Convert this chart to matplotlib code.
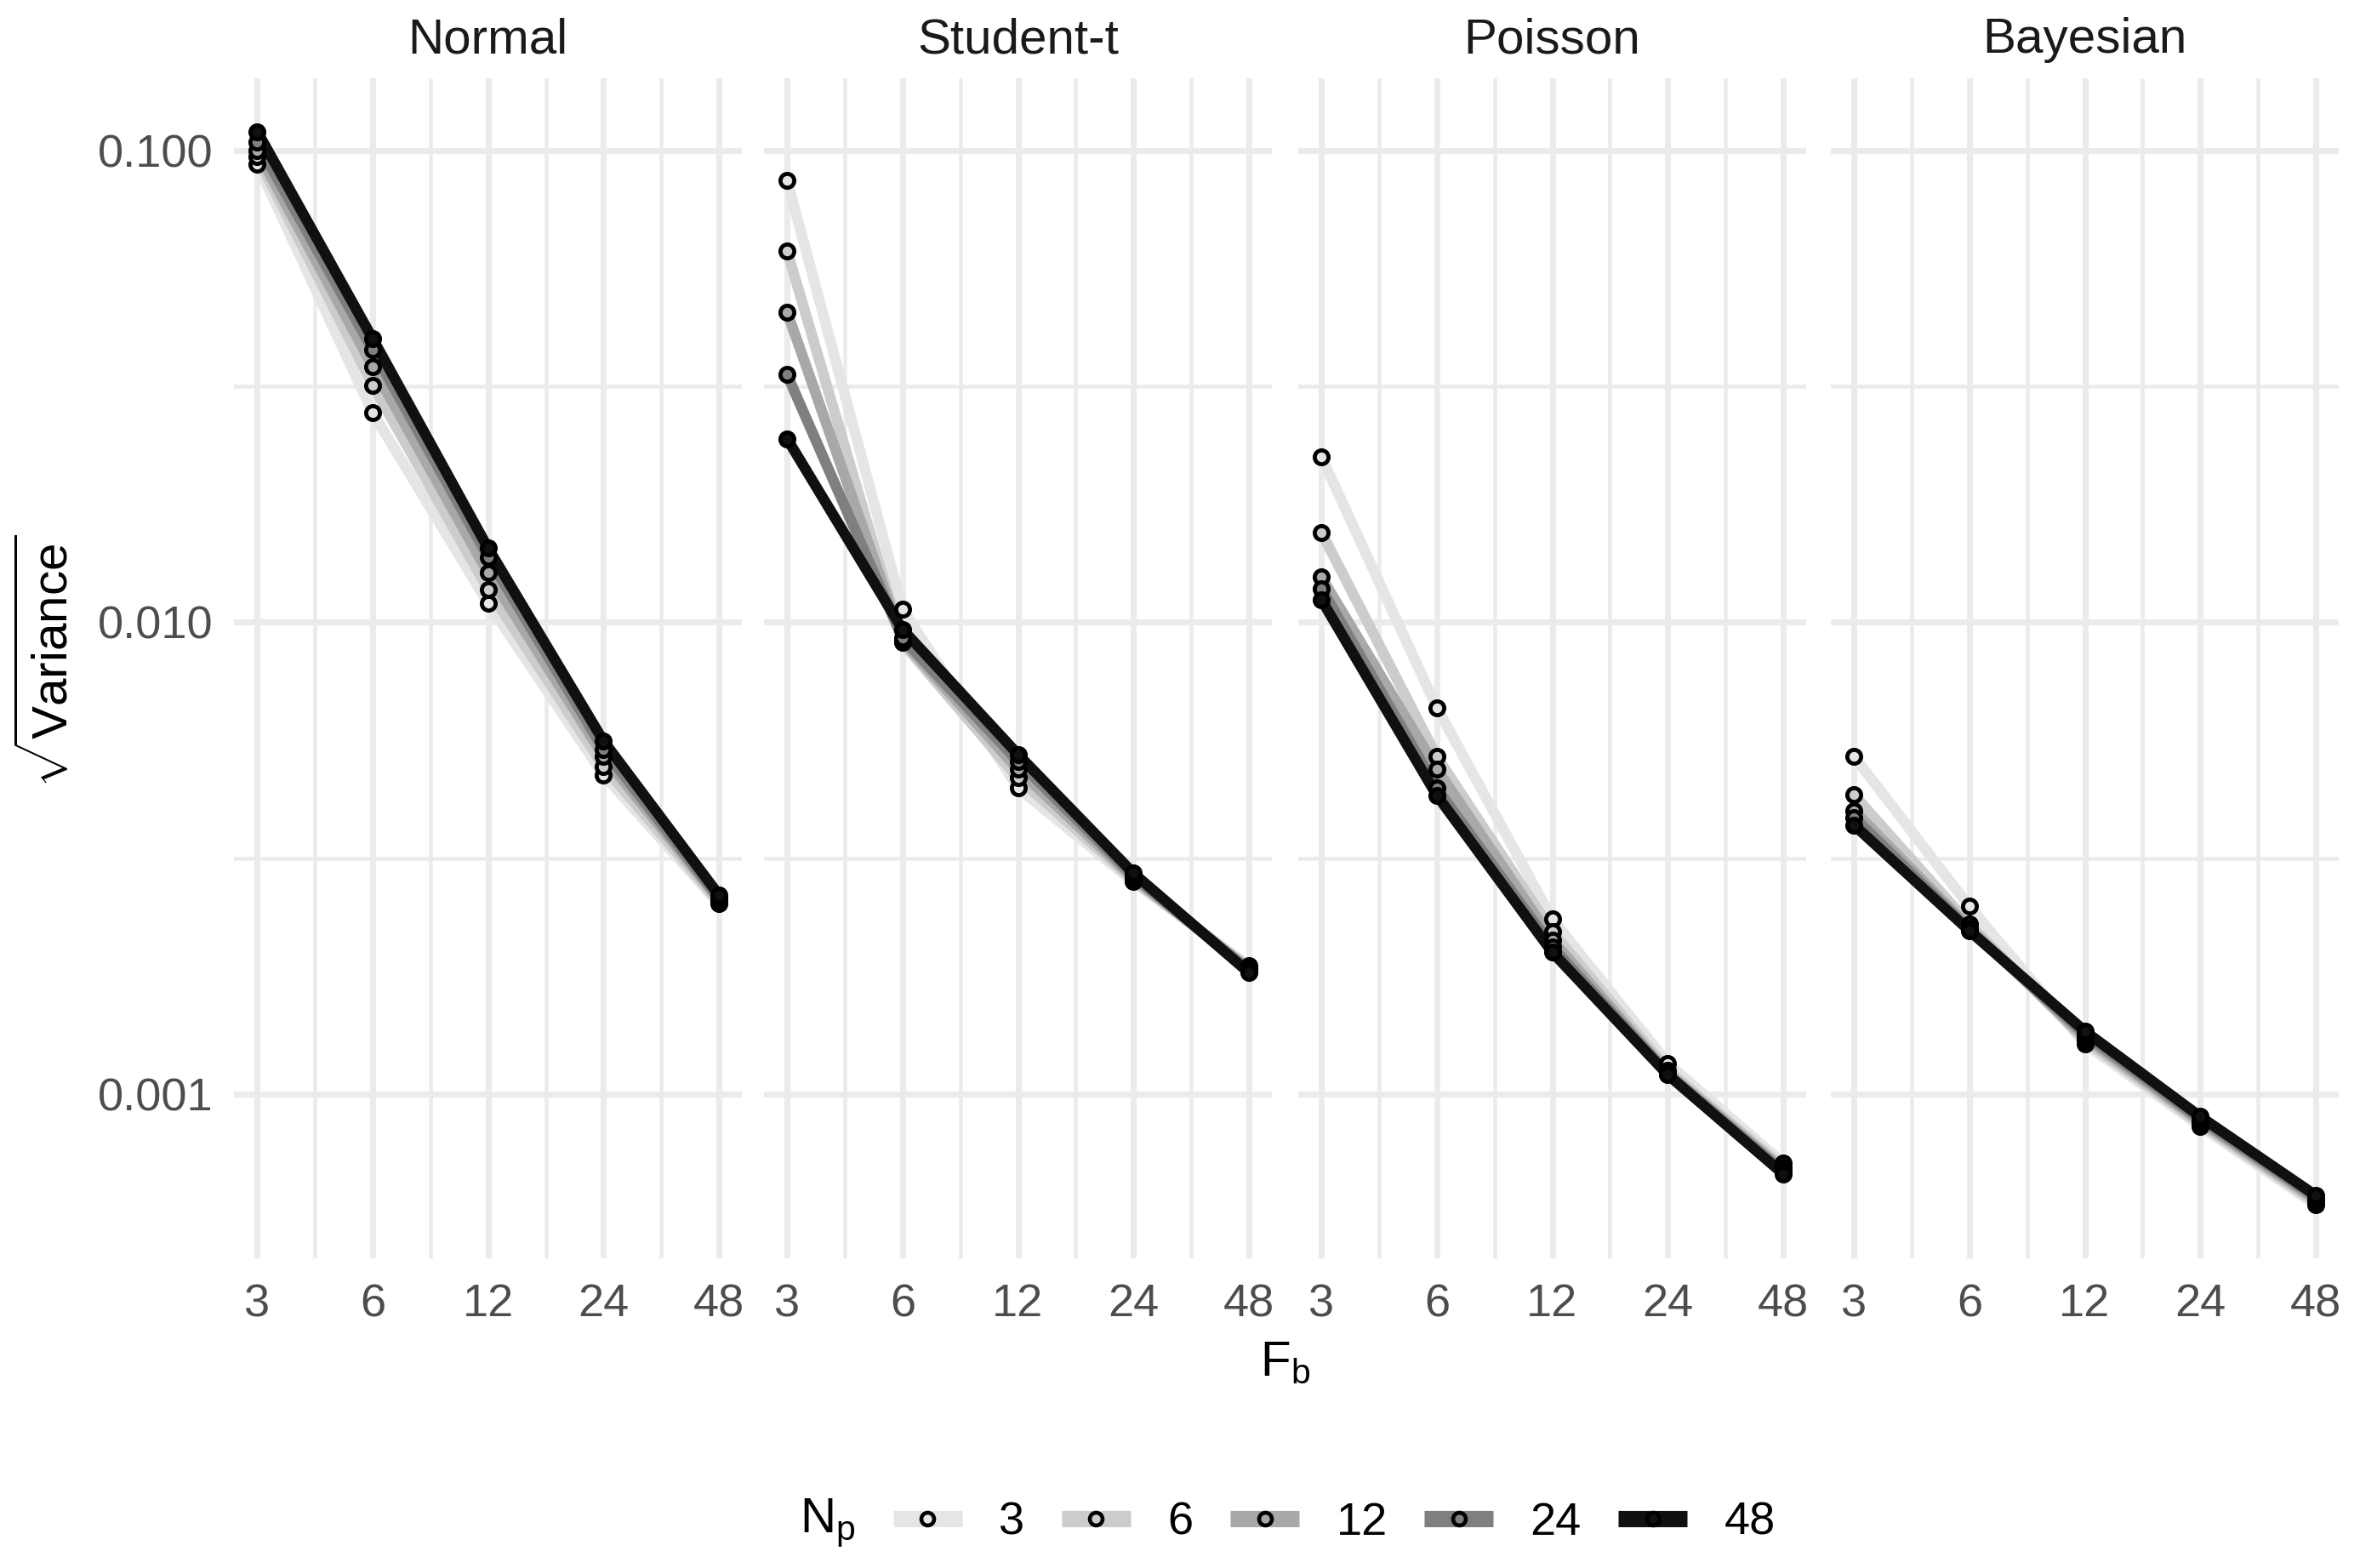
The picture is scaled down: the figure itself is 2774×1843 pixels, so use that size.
import numpy as np
import matplotlib
matplotlib.use("Agg")
import matplotlib.pyplot as plt
from matplotlib.lines import Line2D
from matplotlib.ticker import FixedLocator, NullFormatter

plt.rcParams['font.family'] = ['Liberation Sans', 'DejaVu Sans']
plt.rcParams['mathtext.fontset'] = 'custom'
plt.rcParams['mathtext.rm'] = 'Liberation Sans'
plt.rcParams['mathtext.it'] = 'Liberation Sans:italic'

# ---------------- data ----------------
fb = [3, 6, 12, 24, 48]
np_levels = [3, 6, 12, 24, 48]
panels = ["Normal", "Student-t", "Poisson", "Bayesian"]

# sqrt(variance) per panel, one list per N_p (order 3, 6, 12, 24, 48), values over F_b
normal_np3 = [0.0937, 0.0278, 0.01097, 0.00475, 0.00253]
normal_np6 = [0.0970, 0.0318, 0.01175, 0.00495, 0.00255]
normal_np12 = [0.0998, 0.0348, 0.01273, 0.00520, 0.00258]
normal_np24 = [0.1040, 0.0378, 0.01375, 0.00538, 0.00260]
normal_np48 = [0.1097, 0.0399, 0.01435, 0.00560, 0.00264]

studt_np3 = [0.0865, 0.01067, 0.00446, 0.00282, 0.00187]
studt_np6 = [0.0613, 0.00905, 0.00468, 0.00284, 0.00185]
studt_np12 = [0.0455, 0.00915, 0.00488, 0.00287, 0.00184]
studt_np24 = [0.0335, 0.00925, 0.00508, 0.00290, 0.00183]
studt_np48 = [0.0245, 0.00966, 0.00525, 0.00294, 0.00181]

poisson_np3 = [0.02244, 0.00660, 0.00235, 0.001163, 0.000714]
poisson_np6 = [0.01552, 0.00519, 0.00221, 0.001125, 0.000700]
poisson_np12 = [0.01247, 0.00489, 0.00212, 0.001110, 0.000692]
poisson_np24 = [0.01180, 0.00445, 0.00205, 0.001105, 0.000685]
poisson_np48 = [0.01117, 0.00430, 0.00200, 0.001100, 0.000678]

bayes_np3 = [0.00520, 0.00250, 0.00128, 0.000855, 0.000583]
bayes_np6 = [0.00431, 0.00229, 0.00130, 0.000865, 0.000590]
bayes_np12 = [0.00399, 0.00225, 0.00132, 0.000875, 0.000597]
bayes_np24 = [0.00386, 0.00223, 0.00134, 0.000885, 0.000604]
bayes_np48 = [0.00372, 0.00222, 0.00136, 0.000896, 0.000610]

panel_data = {
    "Normal": [normal_np3, normal_np6, normal_np12, normal_np24, normal_np48],
    "Student-t": [studt_np3, studt_np6, studt_np12, studt_np24, studt_np48],
    "Poisson": [poisson_np3, poisson_np6, poisson_np12, poisson_np24, poisson_np48],
    "Bayesian": [bayes_np3, bayes_np6, bayes_np12, bayes_np24, bayes_np48],
}

colors = ["#E5E5E5", "#CCCCCC", "#A8A8A8", "#7F7F7F", "#101010"]

# ---------------- figure ----------------
W, H = 2774, 1843
dpi = 300
fig = plt.figure(figsize=(W / dpi, H / dpi), dpi=dpi)

lefts = [275.3, 898.0, 1526.0, 2152.0]
pw = 597.0
bottom_px, top_px = 1479.0, 91.5

grid_col = "#EBEBEB"
axes = []
for i, name in enumerate(panels):
    ax = fig.add_axes([lefts[i] / W, 1 - bottom_px / H, pw / W, (bottom_px - top_px) / H])
    axes.append(ax)
    ax.set_xscale('log', base=2)
    ax.set_yscale('log', base=10)
    for k, series in enumerate(panel_data[name]):
        ax.plot(fb, series, color=colors[k], lw=3.0, solid_capstyle='butt',
                solid_joinstyle='round', zorder=2 + k * 0.1)
    for k, series in enumerate(panel_data[name]):
        ax.plot(fb, series, ls='none', marker='o', ms=3.9, mfc=colors[k],
                mec='black', mew=1.15, zorder=3 + k * 0.1)
    ax.margins(x=0.05, y=0.05)
    ax.set_ylim(10 ** -3.348, 10 ** -0.846)

    ax.xaxis.set_major_locator(FixedLocator(fb))
    ax.set_xticklabels([str(v) for v in fb])
    mids = [np.sqrt(fb[j] * fb[j + 1]) for j in range(len(fb) - 1)]
    ax.xaxis.set_minor_locator(FixedLocator(mids))
    ax.xaxis.set_minor_formatter(NullFormatter())

    ax.yaxis.set_major_locator(FixedLocator([0.001, 0.01, 0.1]))
    ax.yaxis.set_minor_locator(FixedLocator([10 ** -3.5, 10 ** -2.5, 10 ** -1.5]))
    ax.yaxis.set_minor_formatter(NullFormatter())
    if i == 0:
        ax.set_yticklabels(["0.001", "0.010", "0.100"])
    else:
        ax.set_yticklabels([])

    ax.grid(True, which='major', color=grid_col, lw=1.7, zorder=0)
    ax.grid(True, which='minor', color=grid_col, lw=1.1, zorder=0)
    ax.set_axisbelow(True)
    for s in ax.spines.values():
        s.set_visible(False)
    ax.tick_params(which='both', length=0)
    ax.tick_params(axis='x', labelsize=13, labelcolor='#4D4D4D', pad=7)
    ax.tick_params(axis='y', labelsize=13, labelcolor='#4D4D4D', pad=6)
    ax.set_title(name, fontsize=14, color='#1A1A1A', pad=7)

fig.text(0.0205, 0.578, r'$\sqrt{\mathrm{Variance}}$', rotation=90, fontsize=14,
         ha='center', va='center')
fig.text(0.5446, 0.131, r'$\mathrm{F_b}$', fontsize=14, ha='center', va='center')

# legend
fig.text(0.3508, 0.029, r'$\mathrm{N_p}$', fontsize=14, ha='center', va='center')
handles = [Line2D([0], [0], color=colors[k], lw=4.6, solid_capstyle='butt',
                  marker='o', ms=3.6, mfc=colors[k], mec='black', mew=1.1)
           for k in range(len(np_levels))]
fig.legend(handles, [str(v) for v in np_levels], loc='center',
           bbox_to_anchor=(0.5654, 0.029), ncol=5, frameon=False, fontsize=13,
           handlelength=1.5, handletextpad=0.8, columnspacing=0.8)

fig.savefig("out.png", dpi=dpi, facecolor='white')
